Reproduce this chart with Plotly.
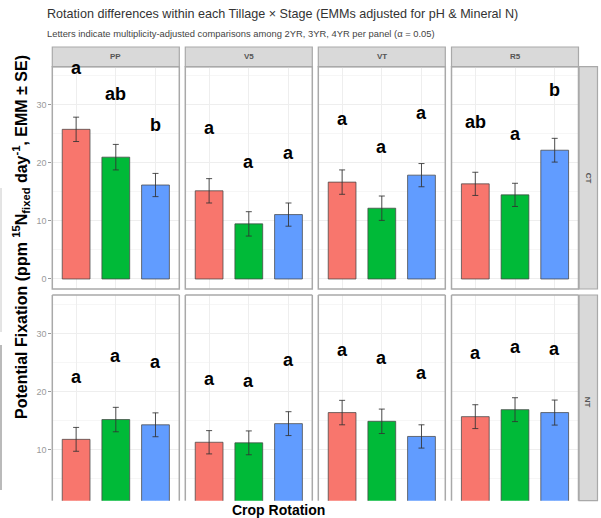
import plotly.graph_objects as go

# ---------------- data ----------------
stages = ["PP", "V5", "VT", "R5"]
tillages = ["CT", "NT"]
rotations = ["2YR", "3YR", "4YR"]
rotation_colors = ["#F8766D", "#00BA38", "#619CFF"]

ct_emm = [[25.8, 21.0, 16.2], [15.2, 9.5, 11.1], [16.7, 12.2, 17.9], [16.4, 14.5, 22.2]]
ct_se = [[2.1, 2.2, 2.0], [2.1, 2.1, 2.0], [2.1, 2.1, 2.0], [2.0, 2.0, 2.05]]
nt_emm = [[11.8, 15.2, 14.3], [11.3, 11.2, 14.5], [16.4, 14.9, 12.3], [15.7, 16.9, 16.4]]
nt_se = [[2.05, 2.1, 2.05], [2.0, 2.05, 2.05], [2.1, 2.1, 2.0], [2.05, 2.05, 2.15]]

ct_letters = [["a", "ab", "b"], ["a", "a", "a"], ["a", "a", "a"], ["ab", "a", "b"]]
nt_letters = [["a", "a", "a"], ["a", "a", "a"], ["a", "a", "a"], ["a", "a", "a"]]
ct_letter_y = [[36.3, 31.9, 26.6], [26.0, 20.2, 21.7], [27.5, 22.8, 28.6], [27.1, 25.0, 32.5]]
nt_letter_y = [[22.5, 26.1, 25.1], [22.1, 21.9, 25.4], [27.2, 25.8, 23.2], [26.7, 27.7, 27.4]]

y_major = [0, 10, 20, 30]
y_minor = [5, 15, 25, 35]

title_text = "Rotation differences within each Tillage \u00d7 Stage (EMMs adjusted for pH & Mineral N)"
subtitle_text = "Letters indicate multiplicity-adjusted comparisons among 2YR, 3YR, 4YR per panel (\u03b1 = 0.05)"

# ---------------- layout geometry (pixels) ----------------
W, H = 601, 518
col_px = [(52.3, 179.3), (185.3, 312.3), (318.3, 445.3), (451.5, 578.5)]
row_px = [(66.7, 289.0), (295.0, 500.7)]
row_range = [[-1.73, 36.6], [1.26, 36.6]]


def px(x):
    return x / W


def py(y):
    return 1 - y / H


BORDER = "#A9A9A9"
GRID = "#EEEEEE"
FONT = "Liberation Sans, Arial"

fig = go.Figure()
shapes = []
annotations = []

emm_rows = [ct_emm, nt_emm]
se_rows = [ct_se, nt_se]
let_rows = [ct_letters, nt_letters]
lety_rows = [ct_letter_y, nt_letter_y]

for r in range(2):
    for c in range(4):
        k = r * 4 + c + 1
        xa = "x" if k == 1 else f"x{k}"
        ya = "y" if k == 1 else f"y{k}"
        for i, rot in enumerate(rotations):
            fig.add_trace(go.Bar(
                x=[rot], y=[emm_rows[r][c][i]],
                width=0.7,
                marker=dict(color=rotation_colors[i],
                            line=dict(color="rgba(70,70,70,0.75)", width=1)),
                error_y=dict(type="data", array=[se_rows[r][c][i]], color="rgba(50,50,50,0.85)",
                             thickness=1, width=3),
                xaxis=xa, yaxis=ya, showlegend=False, hoverinfo="skip",
            ))
            annotations.append(dict(
                x=rot, y=lety_rows[r][c][i], xref=xa, yref=ya,
                text=f"<b>{let_rows[r][c][i]}</b>", showarrow=False,
                font=dict(family=FONT, size=18, color="black"),
                xanchor="center", yanchor="middle",
            ))
        x0, x1 = col_px[c]
        y0, y1 = row_px[r]
        lk = "xaxis" if k == 1 else f"xaxis{k}"
        lyk = "yaxis" if k == 1 else f"yaxis{k}"
        fig.update_layout({
            lk: dict(domain=[px(x0), px(x1)], anchor=ya, type="category",
                     categoryorder="array", categoryarray=rotations,
                     range=[-0.6, 2.6], showgrid=True, gridcolor=GRID, gridwidth=1,
                     showticklabels=False, ticks="", zeroline=False, showline=False,
                     fixedrange=True),
            lyk: dict(domain=[py(y1), py(y0)], anchor=xa, range=row_range[r],
                      tickvals=y_major, showgrid=True, gridcolor=GRID, gridwidth=1,
                      minor=dict(tickvals=y_minor, showgrid=True, gridcolor="#F6F6F6", gridwidth=1),
                      zeroline=False, showline=False,
                      showticklabels=(c == 0), ticks="outside" if c == 0 else "",
                      ticklen=3, tickcolor="#9A9A9A", tickwidth=1,
                      tickfont=dict(family=FONT, size=9, color="#9A9A9A"),
                      fixedrange=True),
        })
        # panel border
        if r == 0:
            shapes.append(dict(type="rect", xref="paper", yref="paper",
                               x0=px(x0), x1=px(x1), y0=py(y1), y1=py(y0),
                               line=dict(color=BORDER, width=1.5), fillcolor="rgba(0,0,0,0)"))
        else:
            for (ax0, ay0, ax1, ay1) in [(x0, y1, x0, y0), (x0, y0, x1, y0), (x1, y0, x1, y1)]:
                shapes.append(dict(type="line", xref="paper", yref="paper",
                                   x0=px(ax0), y0=py(ay0), x1=px(ax1), y1=py(ay1),
                                   line=dict(color=BORDER, width=1.5)))

# top strips
for c, st in enumerate(stages):
    x0, x1 = col_px[c]
    shapes.append(dict(type="rect", xref="paper", yref="paper",
                       x0=px(x0), x1=px(x1), y0=py(66.7), y1=py(47.0),
                       line=dict(color=BORDER, width=1.2), fillcolor="#D9D9D9", layer="below"))
    annotations.append(dict(x=px((x0 + x1) / 2), y=py(56.8), xref="paper", yref="paper",
                            text=f"<b>{st}</b>", showarrow=False,
                            font=dict(family=FONT, size=8, color="#555555"),
                            xanchor="center", yanchor="middle"))

# right strips
for r, tl in enumerate(tillages):
    y0, y1 = row_px[r]
    shapes.append(dict(type="rect", xref="paper", yref="paper",
                       x0=px(579.0), x1=px(597.5), y0=py(y1), y1=py(y0),
                       line=dict(color=BORDER, width=1.2), fillcolor="#D9D9D9", layer="below"))
    cy = (y0 + y1) / 2 if r == 0 else 402
    annotations.append(dict(x=px(588.2), y=py(cy), xref="paper", yref="paper",
                            text=f"<b>{tl}</b>", showarrow=False, textangle=90,
                            font=dict(family=FONT, size=8, color="#555555"),
                            xanchor="center", yanchor="middle"))

# left edge artefact lines
shapes.append(dict(type="line", xref="paper", yref="paper", x0=px(1), x1=px(1),
                   y0=py(188), y1=py(332), line=dict(color="#C8C8C8", width=1)))
shapes.append(dict(type="line", xref="paper", yref="paper", x0=px(1), x1=px(1),
                   y0=py(345), y1=py(490), line=dict(color="#8C8C8C", width=1.2)))

# titles
annotations.append(dict(x=px(45), y=py(14), xref="paper", yref="paper", text=title_text,
                        showarrow=False, xanchor="left", yanchor="middle",
                        font=dict(family=FONT, size=12.6, color="#333333")))
annotations.append(dict(x=px(45), y=py(34), xref="paper", yref="paper", text=subtitle_text,
                        showarrow=False, xanchor="left", yanchor="middle",
                        font=dict(family=FONT, size=9.4, color="#444444")))
annotations.append(dict(x=px(21), y=py(237), xref="paper", yref="paper",
                        text="<b>Potential Fixation (ppm <sup>15</sup>N<sub>fixed</sub> day<sup>-1</sup>, EMM \u00b1 SE)</b>",
                        showarrow=False, textangle=-90, xanchor="center", yanchor="middle",
                        font=dict(family=FONT, size=16, color="black")))
annotations.append(dict(x=px(278), y=py(510), xref="paper", yref="paper",
                        text="<b>Crop Rotation</b>", showarrow=False,
                        xanchor="center", yanchor="middle",
                        font=dict(family=FONT, size=14, color="black")))

fig.update_layout(
    width=W, height=H, margin=dict(l=0, r=0, t=0, b=0),
    paper_bgcolor="white", plot_bgcolor="white",
    shapes=shapes, annotations=annotations, bargap=0.3, showlegend=False,
)

fig.write_html("out.html", config={"displayModeBar": False},
               post_script="document.body.style.margin='0';document.body.style.overflow='hidden';")
